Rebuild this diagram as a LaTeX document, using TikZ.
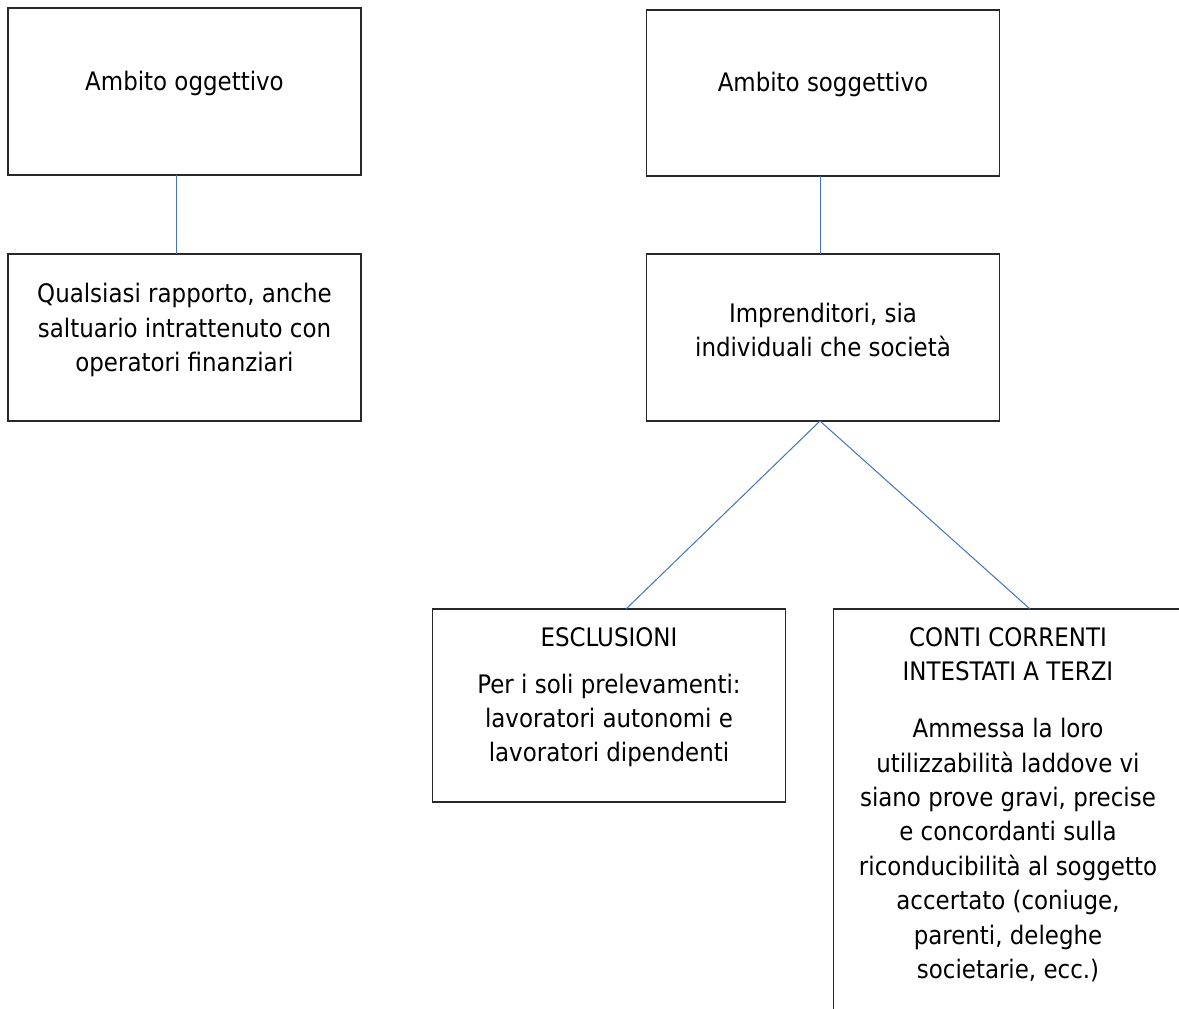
\documentclass[tikz,border=0pt]{standalone}
\usepackage{fontspec}
\setmainfont{DejaVu Sans Condensed}
\definecolor{linkblue}{RGB}{68,114,196}
\definecolor{boxline}{RGB}{40,40,40}
\begin{document}
\begin{tikzpicture}[x=1pt,y=-1pt,
  box/.style={draw=boxline,line width=1.2pt,fill=white,minimum width=353pt,inner sep=0pt,outer sep=0pt},
  txt/.style={align=center,font=\fontsize{25.5}{34.4}\selectfont,inner sep=0pt},
  link/.style={draw=linkblue,line width=1pt}]
\clip (0,0) rectangle (1179,1009);
\fill[white] (0,0) rectangle (1179,1009);
% boxes
\node[box,minimum height=167pt] (a1) at (184.5,91.5) {};
\node[box,minimum height=167pt] (a2) at (184.5,337.5) {};
\node[box,minimum height=166pt] (b1) at (823,93) {};
\node[box,minimum height=167pt] (b2) at (823,337.5) {};
\node[box,minimum height=193pt] (c) at (609,705.5) {};
\node[box,minimum height=460pt] (d) at (1010,839) {};
% connectors
\coordinate (cl) at (626,609);
\coordinate (cr) at (1030,609);
\draw[link] ([xshift=-8pt]a1.south) -- ([xshift=-8pt]a2.north);
\draw[link] ([xshift=-3pt]b1.south) -- ([xshift=-3pt]b2.north);
\draw[link] ([xshift=-3pt]b2.south) -- (cl);
\draw[link] ([xshift=-3pt]b2.south) -- (cr);
% texts
\node[txt] (ta1) at (184.5,83) {Ambito oggettivo};
\node[txt] (ta2) at (184.5,330) {Qualsiasi rapporto, anche\\saltuario intrattenuto con\\operatori finanziari};
\node[txt] (tb1) at (823,84) {Ambito soggettivo};
\node[txt] (tb2) at (823,330) {Imprenditori, sia\\individuali che società};
\node[txt] (tc1) at (609,637.5) {ESCLUSIONI};
\node[txt] (tc2) at (609,720.5) {Per i soli prelevamenti:\\lavoratori autonomi e\\lavoratori dipendenti};
\node[txt] (td1) at (1008,654.5) {CONTI CORRENTI\\INTESTATI A TERZI};
\node[txt] (td2) at (1008,850) {Ammessa la loro\\utilizzabilità laddove vi\\siano prove gravi, precise\\e concordanti sulla\\riconducibilità al soggetto\\accertato (coniuge,\\parenti, deleghe\\societarie, ecc.)};
\end{tikzpicture}
\end{document}
